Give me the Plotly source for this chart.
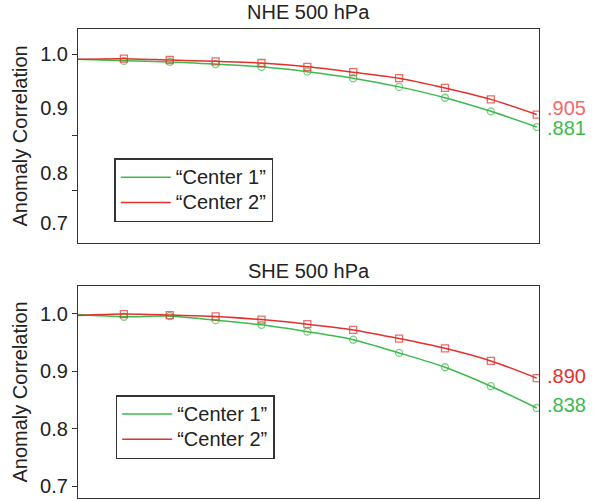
import plotly.graph_objects as go

# ---- data ----
lead = [0, 1, 2, 3, 4, 5, 6, 7, 8, 9, 10]

nhe_center1 = [0.991, 0.988, 0.986, 0.982, 0.977, 0.968, 0.956, 0.940, 0.920, 0.895, 0.866]
nhe_center2 = [0.991, 0.992, 0.9895, 0.987, 0.984, 0.977, 0.967, 0.956, 0.938, 0.917, 0.889]

she_center1 = [0.999, 0.995, 0.996, 0.989, 0.981, 0.969, 0.955, 0.932, 0.907, 0.874, 0.836]
she_center2 = [0.997, 0.9996, 0.998, 0.9956, 0.990, 0.982, 0.972, 0.957, 0.940, 0.918, 0.888]

series_names = ["\u201cCenter 1\u201d", "\u201cCenter 2\u201d"]
panel_titles = ["NHE 500 hPa", "SHE 500 hPa"]
end_labels_nhe = [".905", ".881"]
end_labels_she = [".890", ".838"]

# top panel tick marks and (offset) tick labels as drawn in the original
nhe_tick_marks = [1.0, 0.85, 0.75]
nhe_label_pos = [1.0, 0.9003, 0.7807, 0.6887]
nhe_label_text = ["1.0", "0.9", "0.8", "0.7"]
she_ticks = [1.0, 0.9, 0.8, 0.7]
she_tick_text = ["1.0", "0.9", "0.8", "0.7"]

GREEN = "#3dba4b"
RED = "#e2312b"
PINK = "#f06a6a"
AX = "#333333"
TXT = "#222222"
FONT = "Liberation Sans, Arial, Helvetica, sans-serif"
FS = 20

W, H = 593, 501
def px_x(x):
    return x / W
def px_y(y):
    return 1 - y / H

fig = go.Figure()

def add_panel(c1, c2, xa, ya, legend):
    msize = [0] + [7] * (len(lead) - 1)
    for vals, name, col, sym in [(c1, series_names[0], GREEN, "circle-open"),
                                 (c2, series_names[1], RED, "square-open")]:
        fig.add_trace(go.Scatter(
            x=lead, y=vals, mode="lines",
            name=f'<span style="font-size:{FS}px">{name}</span>',
            line=dict(color=col, width=1.5, shape="spline", smoothing=0.8),
            xaxis=xa, yaxis=ya, legend=legend, hoverinfo="skip"))
        fig.add_trace(go.Scatter(
            x=lead, y=vals, mode="markers", showlegend=False,
            marker=dict(symbol=sym, size=msize, color=col, line=dict(width=1.3, color=col)),
            xaxis=xa, yaxis=ya, hoverinfo="skip"))

add_panel(nhe_center1, nhe_center2, "x", "y", "legend")
add_panel(she_center1, she_center2, "x2", "y2", "legend2")
# placeholder trace so the top label axis is drawn
fig.add_trace(go.Scatter(x=[None], y=[None], xaxis="x", yaxis="y3", showlegend=False))

xdom = [px_x(78), px_x(539)]
top_dom = [px_y(243), px_y(29)]
bot_dom = [px_y(498), px_y(285.7)]
top_range = [0.6525, 1.0466]
bot_range = [0.6792, 1.0491]

xcommon = dict(range=[0, 10.05], showticklabels=False, ticks="", showgrid=False,
               zeroline=False, showline=True, linecolor=AX, linewidth=1.3, mirror=True)
ycommon = dict(showgrid=False, zeroline=False, showline=True, linecolor=AX,
               linewidth=1.3, mirror=True, ticks="outside", ticklen=5, tickcolor=AX,
               tickwidth=1.2, tickfont=dict(family=FONT, size=FS, color=TXT))

leg_common = dict(xanchor="left", yanchor="top", bordercolor=AX, borderwidth=1.5,
                  bgcolor="white", font=dict(family=FONT, size=17, color=TXT),
                  tracegroupgap=0, itemwidth=50)

fig.update_layout(
    width=W, height=H, margin=dict(l=0, r=0, t=0, b=0),
    paper_bgcolor="white", plot_bgcolor="white",
    font=dict(family=FONT, size=FS, color=TXT),
    xaxis=dict(domain=xdom, anchor="y", **xcommon),
    xaxis2=dict(domain=xdom, anchor="y2", **xcommon),
    yaxis=dict(domain=top_dom, anchor="x", range=top_range, tickvals=nhe_tick_marks,
               showticklabels=False, **ycommon),
    yaxis3=dict(domain=top_dom, anchor="x", overlaying="y", range=top_range,
                tickvals=nhe_label_pos, ticktext=nhe_label_text, ticks="outside",
                ticklen=5, tickcolor="rgba(0,0,0,0)", showgrid=False, zeroline=False,
                showline=False, tickfont=dict(family=FONT, size=FS, color=TXT)),
    yaxis2=dict(domain=bot_dom, anchor="x2", range=bot_range, tickvals=she_ticks,
                ticktext=she_tick_text, **ycommon),
    legend=dict(x=px_x(114.3), y=px_y(158.3), **leg_common),
    legend2=dict(x=px_x(115.7), y=px_y(395), **leg_common),
    showlegend=True,
)

ann = []
ann.append(dict(text=panel_titles[0], x=px_x(308.5), y=px_y(12.5), xref="paper", yref="paper",
                showarrow=False, xanchor="center", yanchor="middle"))
ann.append(dict(text=panel_titles[1], x=px_x(308.5), y=px_y(270.5), xref="paper", yref="paper",
                showarrow=False, xanchor="center", yanchor="middle"))
for yc in [136, 392]:
    ann.append(dict(text="Anomaly Correlation", x=px_x(19.5), y=px_y(yc), xref="paper",
                    yref="paper", showarrow=False, textangle=-90,
                    xanchor="center", yanchor="middle"))
for txt, yc, col in [(end_labels_nhe[0], 108.3, PINK), (end_labels_nhe[1], 127.7, GREEN),
                     (end_labels_she[0], 376, RED), (end_labels_she[1], 405, GREEN)]:
    ann.append(dict(text=txt, x=px_x(545), y=px_y(yc), xref="paper", yref="paper",
                    showarrow=False, xanchor="left", yanchor="middle",
                    font=dict(family=FONT, size=FS, color=col)))
fig.update_layout(annotations=ann)

fig.write_html("out.html", config={"displayModeBar": False},
               post_script="document.body.style.margin='0px';")
